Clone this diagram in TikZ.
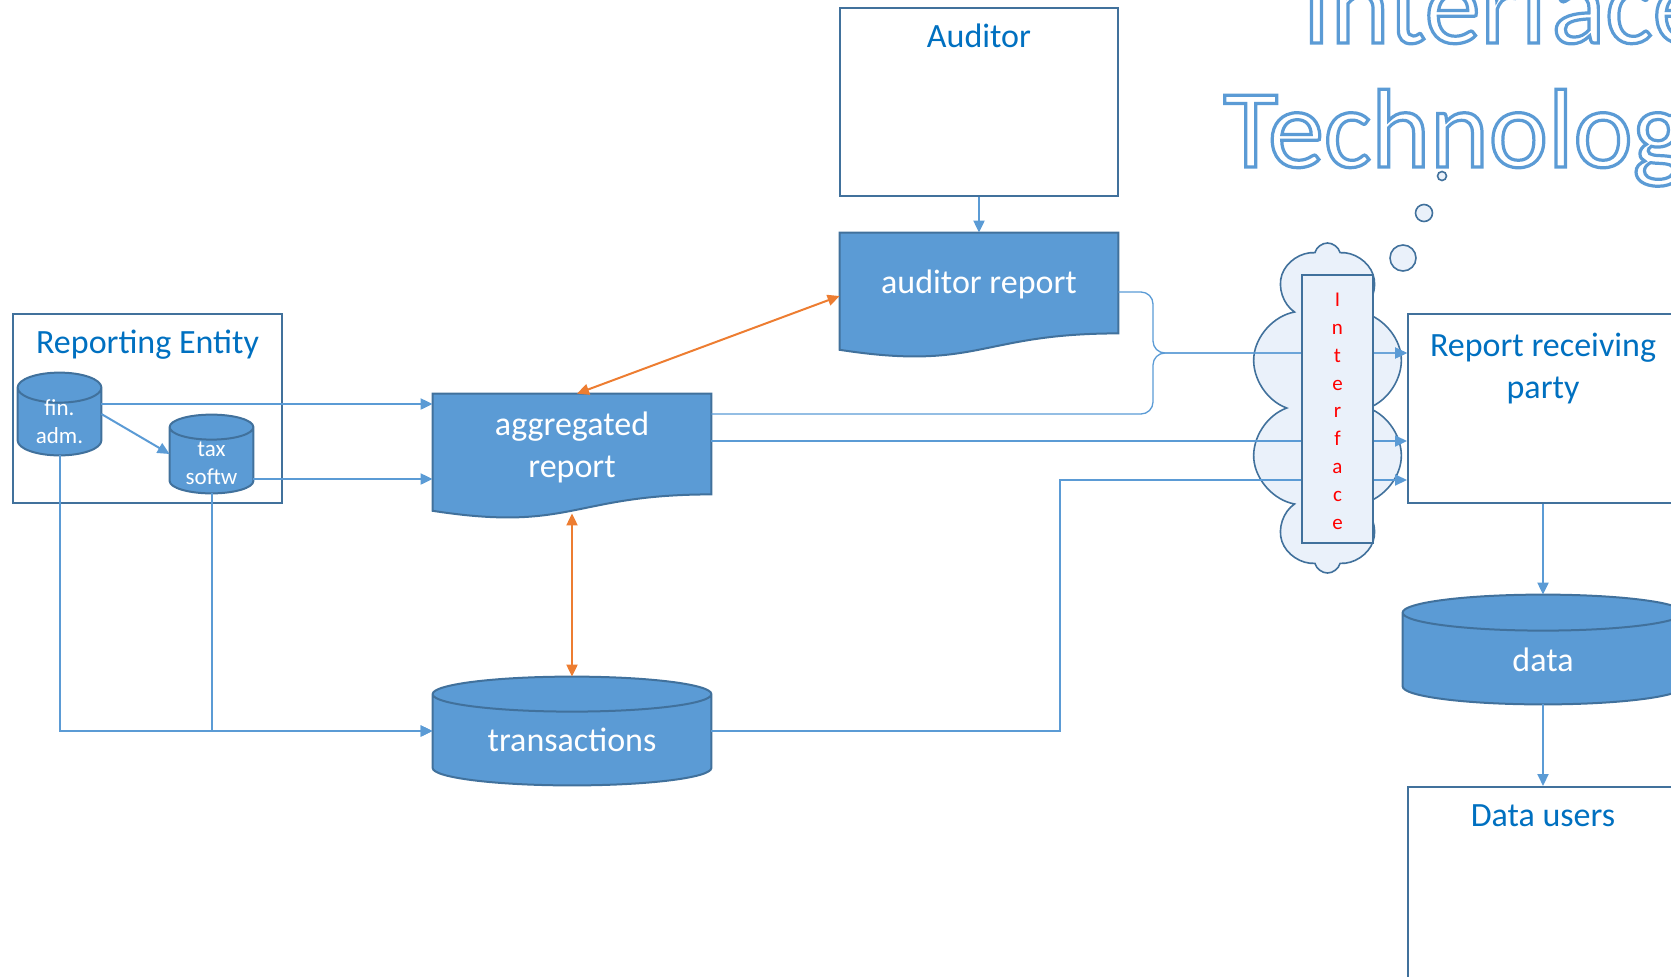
\documentclass[tikz,border=0pt]{standalone}
\usepackage{fontspec}
\setmainfont{Carlito}
\usetikzlibrary{positioning, arrows.meta, shapes.symbols, calc}

\definecolor{boxline}{HTML}{41719C}
\definecolor{shapefill}{HTML}{5B9BD5}
\definecolor{flowblue}{HTML}{5B9BD5}
\definecolor{titleblue}{HTML}{0070C0}
\definecolor{floworange}{HTML}{ED7D31}
\definecolor{cloudfill}{HTML}{EAF1FA}

\pgfdeclarelayer{back}
\pgfsetlayers{back,main}
\newcommand\outlined[1]{\special{pdf:literal direct 2 Tr 1.6 w 0.357 0.608 0.835 RG}#1\special{pdf:literal direct 0 Tr}}

\begin{document}
\begin{tikzpicture}[x=0.5pt,y=-0.5pt,>={Triangle[length=6pt,width=5.5pt]},font=\fontsize{17}{21}\selectfont]
  \tikzstyle{frame}=[draw=boxline,line width=1pt,inner sep=0pt]
  \tikzstyle{boxtitle}=[text=titleblue,anchor=base,yshift=-20pt,align=center]
  \tikzstyle{doc}=[text=white,align=center,minimum width=139pt,minimum height=50pt,inner sep=0pt,text depth=0pt]
  \tikzstyle{db}=[text=white,align=center,inner sep=0pt,text depth=0pt]
  \tikzstyle{small}=[font=\fontsize{11.5}{14}\selectfont]
  \tikzstyle{solid shape}=[draw=boxline,line width=1pt,fill=shapefill]
  \tikzstyle{flow}=[->,draw=flowblue,line width=1pt]
  \tikzstyle{thinflow}=[flow,line width=0.65pt,rounded corners=6pt]
  \tikzstyle{sync}=[<->,draw=floworange,line width=1pt]
  \tikzstyle{bubble}=[draw=boxline,line width=0.8pt,fill=cloudfill]
  \tikzstyle{heading}=[anchor=base west,text=white,inner sep=0pt,font=\fontsize{56}{62}\selectfont]

  \useasboundingbox (0,0) rectangle (1671,976);

  \node[heading] (title1) at (1302,43) {\outlined{Interface}};
  \node[heading] (title2) at (1223,167) {\outlined{Technology}};

  \node[frame,minimum width=139pt,minimum height=93.75pt,label={[boxtitle]north:Auditor}] (auditor) at (979,102) {};
  \node[doc,text height=10pt] (audrep) at (979,283) {auditor report};
  \node[frame,minimum width=134.5pt,minimum height=94.5pt,label={[boxtitle]north:Reporting Entity}] (entity) at (147.5,408.5) {};
  \node[db,small,minimum width=41.5pt,minimum height=41pt,text height=29pt] (finadm) at (59.5,414) {fin.\\adm.};
  \node[db,small,minimum width=41.5pt,minimum height=39pt,text height=30pt] (taxsw) at (211.5,454) {tax\\softw};
  \node[doc,text height=33pt] (aggrep) at (572,444) {aggregated\\report};
  \node[db,minimum width=139pt,minimum height=54pt,text height=20pt] (trans) at (572,731) {transactions};
  \node[frame,minimum width=135pt,minimum height=94.5pt,label={[boxtitle,yshift=-22.5pt]north:Report receiving\\party}] (receiver) at (1543,408.5) {};
  \node[db,minimum width=140pt,minimum height=54.5pt,text height=21.5pt] (data) at (1543,649.5) {data};
  \node[frame,minimum width=135pt,minimum height=106.5pt,label={[boxtitle]north:Data users}] (users) at (1543,893.5) {};

  \begin{pgfonlayer}{back}
    \foreach \d in {audrep,aggrep}
      \filldraw[solid shape] (\d.north west) -- (\d.north east) -- (\d.south east)
        .. controls (\d.south) and ([yshift=-19pt]\d.south) .. ([yshift=-8.2pt]\d.south west) -- cycle;
    \foreach \d/\r in {finadm/7.5pt,taxsw/6.25pt,trans/8.75pt,data/9pt}
      \filldraw[solid shape] let \p1=(\d.north west), \p2=(\d.south east), \n1={(\x2-\x1)/2} in
        (\x1,\y1-\r) -- (\x1,\y2+\r) arc[start angle=180,end angle=360,x radius=\n1*1pt,y radius=\r]
        -- (\x2,\y1-\r) arc[start angle=0,end angle=180,x radius=\n1*1pt,y radius=\r] -- cycle
        (\x1,\y1-\r) arc[start angle=180,end angle=360,x radius=\n1*1pt,y radius=\r];
  \end{pgfonlayer}

  \node[cloud,cloud puffs=10,cloud ignores aspect,draw=boxline,line width=0.8pt,fill=cloudfill,
        minimum width=77.5pt,minimum height=165pt,inner sep=0pt] (cloud) at (1327.5,408) {};
  \foreach \x/\y/\r [count=\i] in {1403/258/6.5pt,1424/213/4.25pt,1442/176/2.25pt}
    \node[bubble,circle,minimum size=2*\r,inner sep=0pt] (bubble\i) at (\x,\y) {};

  \coordinate (brace) at (1153,353);
  \coordinate (tbend) at (1060,480);

  \draw[flow] (auditor) -- (audrep);
  \draw[flow] ([yshift=5pt]finadm.east) -- ([yshift=5pt]finadm.east -| aggrep.west);
  \draw[flow] (finadm.east) -- (taxsw.west);
  \draw[flow] ([yshift=-12.5pt]taxsw.east) -- ([yshift=-12.5pt]taxsw.east -| aggrep.west);
  \draw[flow] (finadm.south) |- (trans.west);
  \draw[flow] (taxsw.south) |- (trans.west);
  \draw[sync] ([xshift=2.5pt]aggrep.north) -- ([yshift=-6.5pt]audrep.west);
  \draw[sync] ([yshift=-9.5pt]aggrep.south) -- (trans.north);
  \draw[thinflow] ([yshift=-4.5pt]audrep.east) -| (brace) -- (brace -| receiver.west);
  \draw[thinflow] ([yshift=15pt]aggrep.east) -| (brace) -- (brace -| receiver.west);
  \draw[flow] ([yshift=1.5pt]aggrep.east) -- ([yshift=1.5pt]aggrep.east -| receiver.west);
  \draw[flow] (trans.east) -| (tbend) -- (tbend -| receiver.west);
  \draw[flow] (receiver) -- (data);
  \draw[flow] (data) -- (users);

  \node[draw=boxline,line width=0.8pt,fill=cloudfill,minimum width=35.5pt,minimum height=134pt,inner sep=0pt,
        text=red,align=center,text height=120pt,text depth=0pt,font=\fontsize{10.5}{13.9}\selectfont] (iface) at (1337.5,409) {I\\n\\t\\e\\r\\f\\a\\c\\e};
\end{tikzpicture}
\end{document}
